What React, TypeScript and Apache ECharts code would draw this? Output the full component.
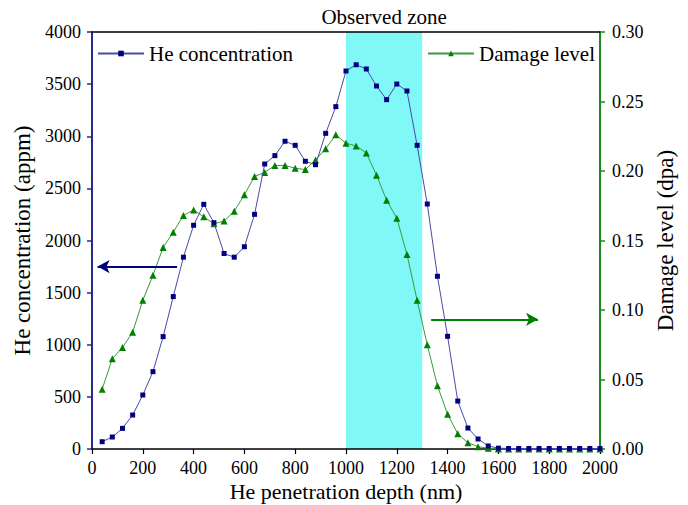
import React, { useEffect, useRef } from "react";
import * as echarts from "echarts";

const depths = [40, 80, 120, 160, 200, 240, 280, 320, 360, 400, 440, 480, 520, 560, 600, 640, 680, 720, 760, 800, 840, 880, 920, 960, 1000, 1040, 1080, 1120, 1160, 1200, 1240, 1280, 1320, 1360, 1400, 1440, 1480, 1520, 1560, 1600, 1640, 1680, 1720, 1760, 1800, 1840, 1880, 1920, 1960, 2000];
const heConcentration = [70, 115, 198, 326, 518, 742, 1078, 1462, 1840, 2146, 2347, 2171, 1875, 1840, 1940, 2251, 2734, 2814, 2952, 2913, 2760, 2727, 3028, 3284, 3626, 3686, 3645, 3482, 3351, 3501, 3434, 2913, 2350, 1657, 1081, 460, 201, 96, 29, 8, 5, 5, 5, 5, 5, 5, 5, 5, 5, 5];
const damageLevel = [0.043, 0.065, 0.073, 0.084, 0.107, 0.125, 0.145, 0.156, 0.168, 0.172, 0.167, 0.162, 0.164, 0.171, 0.183, 0.196, 0.199, 0.204, 0.204, 0.202, 0.201, 0.208, 0.216, 0.226, 0.220, 0.218, 0.213, 0.197, 0.179, 0.166, 0.140, 0.107, 0.075, 0.0455, 0.025, 0.011, 0.0045, 0.0017, 0.0005, 0, 0, 0, 0, 0, 0, 0, 0, 0, 0, 0];
const observedZone = [1000, 1300];
const heArrow = [[335, 1750], [22, 1750]];
const damageArrow = [[1335, 0.0933], [1756, 0.0933]];

const FONT = "Liberation Serif";
const NAVY = "#000080";
const GREEN = "#008000";

export default function App() {
  const ref = useRef<HTMLDivElement>(null);
  useEffect(() => {
    if (!ref.current) return;
    const chart = echarts.init(ref.current, undefined, { renderer: "svg" });
    chart.setOption({
      animation: false,
      backgroundColor: "#ffffff",
      textStyle: { fontFamily: FONT, color: "#000" },
      grid: { left: 92, right: 88, top: 32, bottom: 56, containLabel: false, outerBoundsMode: "none" },
      legend: [
        {
          data: ["He concentration"],
          left: 92,
          top: 38,
          itemWidth: 46,
          itemHeight: 7,
          itemGap: 6,
          textStyle: { fontFamily: FONT, fontSize: 21, color: "#000" },
        },
        {
          data: ["Damage level"],
          left: 422,
          top: 38,
          itemWidth: 46,
          itemHeight: 7,
          textStyle: { fontFamily: FONT, fontSize: 21, color: "#000" },
        },
      ],
      xAxis: [
        {
          type: "value",
          min: 0,
          max: 2000,
          interval: 200,
          name: "He penetration depth (nm)",
          nameLocation: "middle",
          nameGap: 31,
          nameMoveOverlap: false,
          nameTextStyle: { fontFamily: FONT, fontSize: 22, lineHeight: 22, color: "#000" },
          axisLine: { show: true, onZero: false, lineStyle: { color: "#000", width: 1.5 } },
          axisTick: { show: true, inside: false, length: 5, lineStyle: { color: "#000", width: 1.2 } },
          axisLabel: { fontFamily: FONT, fontSize: 18, lineHeight: 18, color: "#000", margin: 10, formatter: (v: number) => String(v) },
          splitLine: { show: false },
        },
        {
          type: "value",
          position: "top",
          min: 0,
          max: 2000,
          axisLine: { show: true, onZero: false, lineStyle: { color: "#000", width: 1.5 } },
          axisTick: { show: false },
          axisLabel: { show: false },
          splitLine: { show: false },
        },
      ],
      yAxis: [
        {
          type: "value",
          min: 0,
          max: 4000,
          interval: 500,
          name: "He concentration (appm)",
          nameLocation: "middle",
          nameGap: 53,
          nameTextStyle: { fontFamily: FONT, fontSize: 23, color: "#000" },
          axisLine: { show: true, onZero: false, lineStyle: { color: "#2a2a8a", width: 2 } },
          axisTick: { show: true, inside: false, length: 5, lineStyle: { color: "#2a2a8a", width: 1.5 } },
          axisLabel: { fontFamily: FONT, fontSize: 18, color: "#000", margin: 11, formatter: (v: number) => String(v) },
          splitLine: { show: false },
        },
        {
          type: "value",
          position: "right",
          min: 0,
          max: 0.3,
          interval: 0.05,
          name: "Damage level (dpa)",
          nameLocation: "middle",
          nameGap: 48,
          nameRotate: 90,
          nameTextStyle: { fontFamily: FONT, fontSize: 23, color: "#000" },
          axisLine: { show: true, onZero: false, lineStyle: { color: "#1a8a1a", width: 2 } },
          axisTick: { show: true, inside: false, length: 5, lineStyle: { color: "#1a8a1a", width: 1.5 } },
          axisLabel: {
            fontFamily: FONT,
            fontSize: 18,
            color: "#000",
            margin: 12,
            formatter: (v: number) => v.toFixed(2),
          },
          splitLine: { show: false },
        },
      ],
      series: [
        {
          name: "He concentration",
          type: "line",
          xAxisIndex: 0,
          yAxisIndex: 0,
          data: depths.map((d, i) => [d, heConcentration[i]]),
          symbol: "rect",
          symbolSize: 5,
          z: 3,
          lineStyle: { color: "#4a4aa6", width: 1 },
          itemStyle: { color: NAVY },
          markArea: {
            silent: true,
            itemStyle: { color: "#80f8f8", opacity: 1 },
            label: {
              show: true,
              position: "top",
              distance: 5,
              formatter: "Observed zone",
              fontFamily: FONT,
              fontSize: 21,
              color: "#000",
            },
            data: [[{ xAxis: observedZone[0] }, { xAxis: observedZone[1] }]],
            z: 0,
          },
          markLine: {
            silent: true,
            symbol: ["none", "arrow"],
            symbolSize: [10, 12],
            label: { show: false },
            lineStyle: { color: NAVY, width: 2, type: "solid" },
            data: [[{ coord: heArrow[0] }, { coord: heArrow[1] }]],
          },
        },
        {
          name: "Damage level",
          type: "line",
          xAxisIndex: 0,
          yAxisIndex: 1,
          data: depths.map((d, i) => [d, damageLevel[i]]),
          symbol: "triangle",
          symbolSize: 7,
          z: 2,
          lineStyle: { color: "#3a9a3a", width: 1 },
          itemStyle: { color: GREEN },
          markLine: {
            silent: true,
            symbol: ["none", "arrow"],
            symbolSize: [10, 12],
            label: { show: false },
            lineStyle: { color: GREEN, width: 2, type: "solid" },
            data: [[{ coord: damageArrow[0] }, { coord: damageArrow[1] }]],
          },
        },
      ],
    });
    return () => chart.dispose();
  }, []);
  return <div ref={ref} style={{ width: 688, height: 505, position: "absolute", left: 0, top: 0 }} />;
}
